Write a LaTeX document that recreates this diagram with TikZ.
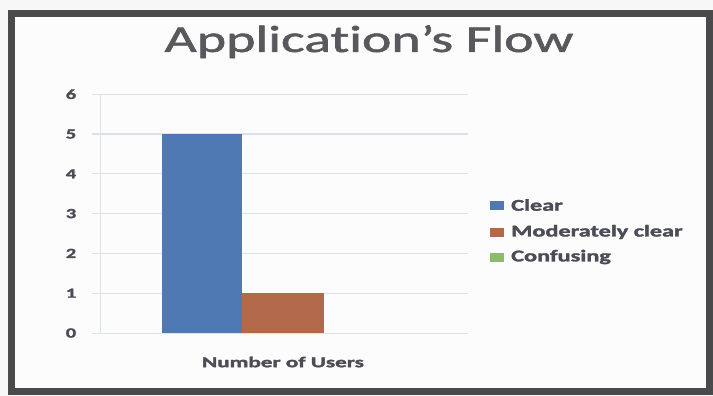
\documentclass[tikz,border=0pt]{standalone}
\usepackage{fontspec}
\setmainfont[Ligatures=NoCommon]{Carlito}
\newfontfamily\titlefont[Ligatures=NoCommon, FakeBold=1.2]{Carlito}
\newfontfamily\labelfont[Ligatures=NoCommon, BoldFeatures={FakeBold=1.6}]{Carlito}
\definecolor{framegray}{HTML}{4A4A4C}
\definecolor{titlegray}{HTML}{58585D}
\definecolor{labelgray}{HTML}{4C4C57}
\definecolor{gridgray}{HTML}{DCE2EA}
\definecolor{barblue}{HTML}{4E79B2}
\definecolor{barbrown}{HTML}{B2694A}
\definecolor{bargreen}{HTML}{8DBB6A}
\definecolor{paper}{HTML}{FBFCFB}
\newcommand{\wide}[2]{\scalebox{#1}[1]{#2}}
\tikzset{
  x=1pt, y=-1pt,
  ticklabel/.style={font=\labelfont\fontsize{14}{14}\selectfont\bfseries, text=labelgray, anchor=center, inner sep=0pt},
  gridline/.style={draw=gridgray, line width=1pt},
  legendkey/.style={minimum width=14pt, minimum height=9pt, inner sep=0pt},
  legendtext/.style={font=\labelfont\fontsize{16.5}{16.5}\selectfont\bfseries, text=labelgray, anchor=west, inner sep=0pt},
}
\begin{document}
\begin{tikzpicture}
  % canvas
  \fill[white!94!gray] (0,0) rectangle (713,396);
  \useasboundingbox (0,0) rectangle (713,396);
  \fill[paper] (11,13) rectangle (710,392);
  \draw[framegray, line width=7pt] (11,14) rectangle (709,391);

  % title
  \node[font=\titlefont\fontsize{38}{38}\selectfont, text=titlegray, anchor=base, inner sep=0pt]
    (title) at (369,52) {\wide{1.47}{Application’s Flow}};

  % horizontal gridlines, one unit = 39.8pt
  \foreach \v in {0,...,6} {
    \coordinate (gl\v) at (92,{333-39.8*\v});
    \coordinate (gr\v) at (468,{333-39.8*\v});
    \draw[gridline] (gl\v) -- (gr\v);
    \node[ticklabel] (tick\v) at (71,{333-39.8*\v}) {\wide{1.45}{\v}};
  }
  % vertical axis
  \coordinate (ax0) at (100,333);
  \coordinate (ax6) at (100,{333-39.8*6});
  \draw[gridline] (ax0) -- (ax6);

  % bars
  \fill[barblue] (162,{333-39.8*5}) rectangle (242,333);
  \fill[barbrown] (242,{333-39.8*1}) rectangle (324,333);

  % category label
  \node[font=\labelfont\fontsize{15}{15}\selectfont\bfseries, text=labelgray, inner sep=0pt]
    (cat) at (283,362) {\wide{1.54}{Number of Users}};

  % legend
  \node[legendkey, fill=barblue]  (k1) at (497,205) {};
  \node[legendkey, fill=barbrown] (k2) at (497,232) {};
  \node[legendkey, fill=bargreen] (k3) at (497,257) {};
  \node[legendtext] (t1) at (511,205) {\wide{1.47}{Clear}};
  \node[legendtext] (t2) at (511,232) {\wide{1.47}{Moderately clear}};
  \node[legendtext] (t3) at (511,257) {\wide{1.47}{Confusing}};
\end{tikzpicture}
\end{document}
